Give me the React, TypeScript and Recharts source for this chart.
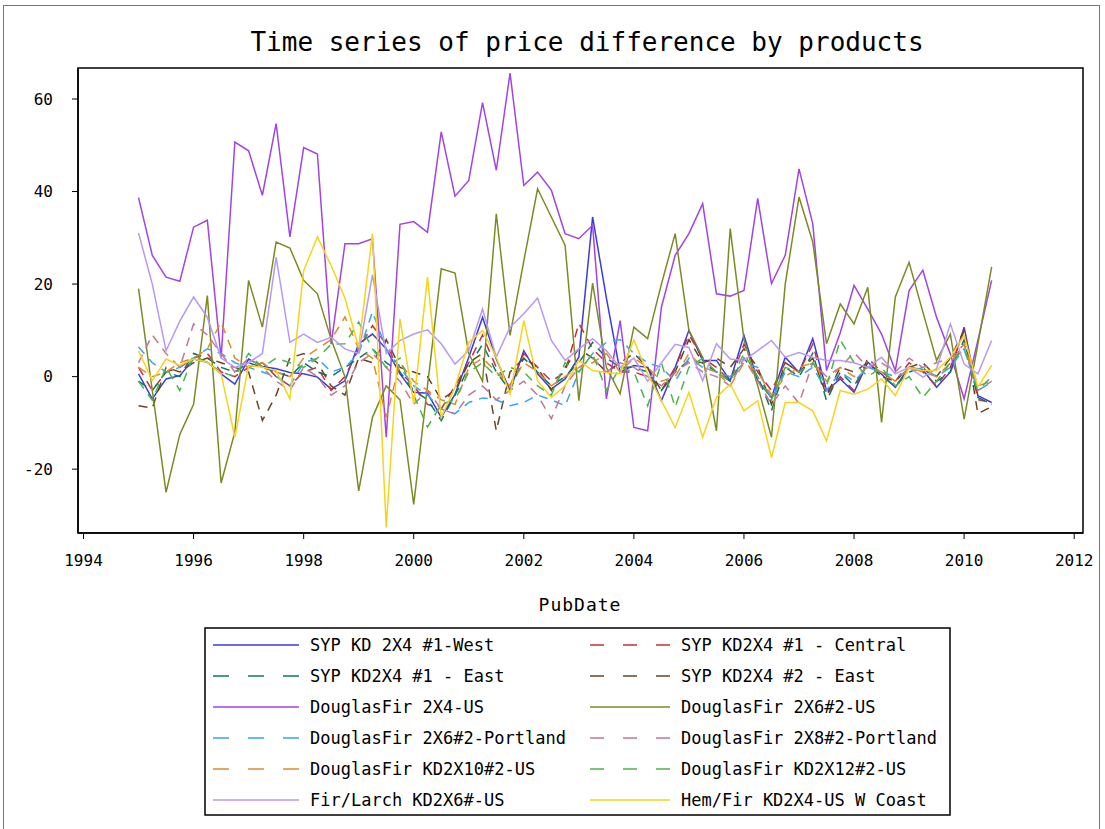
import { LineChart, Line, XAxis, YAxis, ReferenceArea } from "recharts"

const MONO = "'DejaVu Sans Mono', monospace"

// quarterly PubDate values
const quarters = [
  1995, 1995.25, 1995.5, 1995.75,
  1996, 1996.25, 1996.5, 1996.75,
  1997, 1997.25, 1997.5, 1997.75,
  1998, 1998.25, 1998.5, 1998.75,
  1999, 1999.25, 1999.5, 1999.75,
  2000, 2000.25, 2000.5, 2000.75,
  2001, 2001.25, 2001.5, 2001.75,
  2002, 2002.25, 2002.5, 2002.75,
  2003, 2003.25, 2003.5, 2003.75,
  2004, 2004.25, 2004.5, 2004.75,
  2005, 2005.25, 2005.5, 2005.75,
  2006, 2006.25, 2006.5, 2006.75,
  2007, 2007.25, 2007.5, 2007.75,
  2008, 2008.25, 2008.5, 2008.75,
  2009, 2009.25, 2009.5, 2009.75,
  2010, 2010.25, 2010.5,
]

const sypWest = [
  0.6, -4.8, -0.5, 0.2, 3.8, 3.1, 0.6, -1.6, 3.8, 2.2, 1.7, 0.9, 0.6, -0.1, -2.7, -0.9,
  7.1, 9.2, 6, 0.6, -3.4, -3.6, -8.8, -3.8, 4.2, 12.8, 3.8, -3, 5.6, 0.6, -2.7, -0.5,
  4.2, 34.5, 17, 1, 2.4, 2, -5.2, 2, 10, 3.5, 3.5, -0.9, 8.9, -0.9, -4.5, 4.2,
  0.9, 8.2, -3, -0.5, -3.4, 3.1, 0.5, -2.3, 2, 1.5, -2.3, 1, 10.7, -4.1, -5.6,
]
const sypCentral = [
  2, -3, 1, 2, 4, 5, 1, 0, 2, 3, 0, -2, 1, 2, -3, 0,
  6, 11, 7, 1, -2, -6, -7, -2, 3, 9, 2, -2, 5, 2, -1, 1,
  11.5, 6, 3, 1, 1, 0, -3, 2, 9, 4, 2, -1, 7, 1, -3, 3,
  1, 7, -4, 0, -3, 4, 1, -1, 3, 1, -2, 2, 10, -5, -5.6,
]
const sypEast1 = [
  -1, -3, 1, 0, 5, 4, 2, 1, 3, 2, 1, 0, 3, 1, 0, 2,
  4, 6, 3, 1, -3, -5, -9.5, -4, 2, 7, 1, -3, 4, 1, -2, 0,
  3, 7.4, 4, 2, 2, 1, -3, 1, 3.5, 3, 1, -1, 4, 0, -7.4, 2,
  0, 5, -5.2, 1, -2, 3, 0, -2, 1, 2, -1, 1, 8, -4.5, -6,
]
const sypEast2 = [
  -6.3, -6.8, 2, 1, 3, 4, 3, 2, 1, -9.5, -4, 4, 5, 3, -2, -4,
  4, 3, 8, 2, 1, 0, -5, -3, 3, 5, -11.7, 1, 4, 2, -3, 2,
  6, 4, 1, 3, 5, 2, -3, 1, 8, 3, 4, 2, 6, 2, -6, 3,
  1, 4, -4, 2, 1, 3, 0, -1, 2, 3, 0, 4, 10, -8, -6.5,
]
const df2x4 = [
  38.7, 26.2, 21.5, 20.6, 32.3, 33.8, 4, 50.7, 48.8, 39.2, 54.7, 30.2, 49.5, 48.1, 7, 28.7,
  28.7, 29.8, -13.1, 32.9, 33.5, 31.2, 52.9, 39, 42.4, 59.2, 44.6, 65.6, 41.3, 44.2, 40.3, 30.9,
  29.8, 32.7, -4.8, 12.1, -11, -11.7, 15, 26.2, 30.9, 37.4, 17.9, 17.4, 18.6, 38.5, 20.1, 26.2,
  44.9, 33, 1.3, 9.5, 19.7, 14.6, 9.2, 1.3, 18.6, 23, 12.8, 4.9, -4.8, 7.8, 20.8,
]
const df2x6 = [
  19, -3, -25, -12.5, -6, 17.5, -23, -12, 20.8, 10.7, 29.1, 27.8, 20.8, 17.9, 8, 0,
  -24.7, -8.8, -2, -5, -27.6, -2, 23.3, 22.4, 5, -1, 35.2, 8.9, 25, 40.6, 34.5, 28.4,
  -5.2, 20.2, 2, -3.7, 10.7, 8.2, 20, 30.9, 10, 4.2, -11.7, 32, 8, -2, -13.1, 20,
  38.8, 29.1, 7.1, 15.7, 11.4, 19.3, -9.9, 17.2, 24.7, 14, 3.5, 9.2, -9.2, 7, 23.7,
]
const df2x6Portland = [
  6.4, 3, 1, 2, 4, 6, 5, 3, 2, 1, 0, -2, 3, 4, 1, 2,
  5, 14, 6, 2, -2, -4, -7, -8, -5.6, -4.6, -5, -6.3, -5.6, -4, -5, -6.3,
  1, 5, 7.4, 8, 5, 3, 2, -1, 4, 2, 1, 0, 3, 2, -5, 1,
  0, 2, -3, 1, -1, 2, 1, 0, 1, 2, 0, 2, 6, -3, -1.2,
]
const df2x8Portland = [
  3, 9, 5, 2, 11.4, 9, 5, 1, 4, 2, -1, -3, 2, 0, -4, -2,
  3, 5, 2, -1, -6, -3, -7, -8.1, -4, -2, -5, -3, -1, -4, -9.1, -2,
  2, 4, 1, 3, 2, 0, -2, 1, 3, 1, 0, -2, 4, -1, -6, -2,
  -5.8, 3, 0, 2, 5.2, 2, 3, 1, 4, 2, 3, 4, 7, -3, -1,
]
const dfKd2x10 = [
  2, 0, 1, 3, 4, 6, 11.8, 4, 2, 3, 1, 0, 4, 6, 8, 12.9,
  6, 4, -8.8, 3, -1, -3, -5, -6, 2, 4, 1, -2, 3, 1, -2, 0,
  2, 3, 5, 1, 4, 2, -1, 0, 5, 2, 1, -2, 3, 1, -4, 0,
  2, 3, -1, 2, 0, 2, 1, -1, 2, 1, 0, 3, 7, -2, -1,
]
const dfKd2x12 = [
  -1, -5.1, 2, -3, 4.6, 3, 1, 0, 5, 2, 4, 3, 2, 4, 7, 7.1,
  11.8, 6, 2, 4, -4, -10.9, -6, -5, 1, 3, 0, 2, 1, -2, -4, 3,
  1, 5, -3, 2, 1, -6.3, 3, -6.6, 2, 4, 1, -1, 5, 0, -5, 2,
  1, 3, -2, 7.9, 3, 0, 2, -2, 0, -4.5, -1, 3, 6, -3, 0,
]
const firLarch = [
  31, 20, 5.6, 12, 17.2, 12.8, 4, 2, 3, 5, 25.8, 7.4, 9.2, 7.4, 8.5, 6,
  5, 22, 5, 7.8, 9.2, 10.1, 7.1, 2.7, 5.6, 14.6, 4.2, 10.7, 13.6, 17, 7.8, 3.5,
  6, 8.2, 5.6, 2, 4, -1, 3, 7, 6.3, -0.9, 7.1, 3.8, 3.5, 5.6, 7.8, 4.2,
  5.2, 4.2, 3.5, 3.5, 3, 2, 4.2, 0.6, 2, -0.1, 1.7, 11.4, 2.7, 0.6, 7.8,
]
const hemFir = [
  5.6, -0.9, 3.8, 2.4, 3.8, 3.1, 0.6, -13.1, 2.4, 2, 1.3, -4.8, 22.9, 30.2, 24, 17,
  6.3, 30.9, -32.6, 12.5, -5.9, 21.5, -8.8, -2.3, 7.4, 10, 4.2, -3.8, 12.1, -0.9, -4.5, -2,
  3.5, 1.3, 0.9, 0.6, 7.9, 0.6, -5.2, -11, -3.4, -13.1, -4.5, -1.6, -7.4, -5.2, -17.5, -5.6,
  -5.6, -7.4, -13.9, -3, -3.8, -2.7, -0.5, -4.1, 2, 1.3, 1.3, 4.2, 8.9, -2.3, 2.4,
]

const seriesNames = [
  "SYP KD 2X4 #1-West",
  "SYP KD2X4 #1 - Central",
  "SYP KD2X4 #1 - East",
  "SYP KD2X4 #2 - East",
  "DouglasFir 2X4-US",
  "DouglasFir 2X6#2-US",
  "DouglasFir 2X6#2-Portland",
  "DouglasFir 2X8#2-Portland",
  "DouglasFir KD2X10#2-US",
  "DouglasFir KD2X12#2-US",
  "Fir/Larch KD2X6#-US",
  "Hem/Fir KD2X4-US W Coast",
]
const seriesValues = [
  sypWest, sypCentral, sypEast1, sypEast2, df2x4, df2x6,
  df2x6Portland, df2x8Portland, dfKd2x10, dfKd2x12, firLarch, hemFir,
]
const seriesColors = [
  "#3b3be0", "#c4303c", "#127567", "#6a4424", "#a044e6", "#7d8a24",
  "#3aa3f2", "#c27896", "#e08a2c", "#4cb44a", "#b998f4", "#f7d418",
]
const seriesDashed = [false, true, true, true, false, false, true, true, true, true, false, false]

const xTicks = [1994, 1996, 1998, 2000, 2002, 2004, 2006, 2008, 2010, 2012]
const yTicks = [-20, 0, 20, 40, 60]
const X_DOMAIN: [number, number] = [1993.9, 2012.16]
const Y_DOMAIN: [number, number] = [-33.8, 66.7]

const rows = quarters.map((t, i) => {
  const r: Record<string, number> = { t }
  seriesValues.forEach((vals, k) => {
    r["s" + k] = vals[i]
  })
  return r
})

function Overlay() {
  return (
    <svg
      width={1105}
      height={829}
      style={{ position: "absolute", left: 0, top: 0, pointerEvents: "none" }}
    >
      <text
        x={587}
        y={42}
        textAnchor="middle"
        dominantBaseline="central"
        fontFamily={MONO}
        fontSize={26}
        fill="#000"
      >
        Time series of price difference by products
      </text>
      <text
        x={580}
        y={604}
        textAnchor="middle"
        dominantBaseline="central"
        fontFamily={MONO}
        fontSize={18}
        style={{ letterSpacing: 1 }}
        fill="#000"
      >
        PubDate
      </text>
      <rect x={205} y={628} width={745} height={187} fill="none" stroke="#000" strokeWidth={1.5} />
      {seriesNames.map((name, i) => {
        const col = i % 2
        const row = Math.floor(i / 2)
        const y = 645 + row * 31
        const x1 = col === 0 ? 213 : 590
        const len = col === 0 ? 86 : 80
        const tx = col === 0 ? 310 : 681
        return (
          <g key={name}>
            <line
              x1={x1}
              x2={x1 + len}
              y1={y}
              y2={y}
              stroke={seriesColors[i]}
              strokeWidth={1.5}
              strokeDasharray={seriesDashed[i] ? (col === 0 ? "16 19" : "14 19") : undefined}
            />
            <text
              x={tx}
              y={y}
              dominantBaseline="central"
              fontFamily={MONO}
              fontSize={17}
              fill="#000"
            >
              {name}
            </text>
          </g>
        )
      })}
    </svg>
  )
}

export default function App() {
  return (
    <div
      style={{
        position: "absolute",
        left: 0,
        top: 0,
        width: 1105,
        height: 829,
        background: "#fff",
        overflow: "hidden",
      }}
    >
      <div
        style={{
          position: "absolute",
          left: 3,
          top: 5,
          width: 1097,
          height: 830,
          border: "1px solid #777",
          boxSizing: "border-box",
        }}
      />
      <LineChart
        width={1105}
        height={829}
        data={rows}
        margin={{ top: 68, right: 22, bottom: 266, left: 8 }}
      >
        <XAxis
          dataKey="t"
          type="number"
          domain={X_DOMAIN}
          ticks={xTicks}
          interval={0}
          allowDataOverflow
          height={30}
          tickSize={6}
          tickMargin={16}
          axisLine={{ stroke: "#000", strokeWidth: 1.5 }}
          tickLine={{ stroke: "#000" }}
          tick={{ fill: "#000", fontSize: 16, fontFamily: MONO }}
        />
        <YAxis
          type="number"
          domain={Y_DOMAIN}
          ticks={yTicks}
          interval={0}
          allowDataOverflow
          width={70}
          tickSize={6}
          tickMargin={19}
          axisLine={{ stroke: "#000", strokeWidth: 1.5 }}
          tickLine={{ stroke: "#000" }}
          tick={{ fill: "#000", fontSize: 16, fontFamily: MONO }}
        />
        <ReferenceArea
          x1={X_DOMAIN[0]}
          x2={X_DOMAIN[1]}
          y1={Y_DOMAIN[0]}
          y2={Y_DOMAIN[1]}
          fill="none"
          fillOpacity={0}
          stroke="#000"
          strokeWidth={1.5}
          strokeOpacity={1}
          ifOverflow="visible"
        />
        {seriesNames.map((name, k) => (
          <Line
            key={name}
            name={name}
            type="linear"
            dataKey={"s" + k}
            stroke={seriesColors[k]}
            strokeWidth={1.5}
            strokeDasharray={seriesDashed[k] ? "9 7" : undefined}
            dot={false}
            activeDot={false}
            isAnimationActive={false}
          />
        ))}
      </LineChart>
      <Overlay />
    </div>
  )
}
